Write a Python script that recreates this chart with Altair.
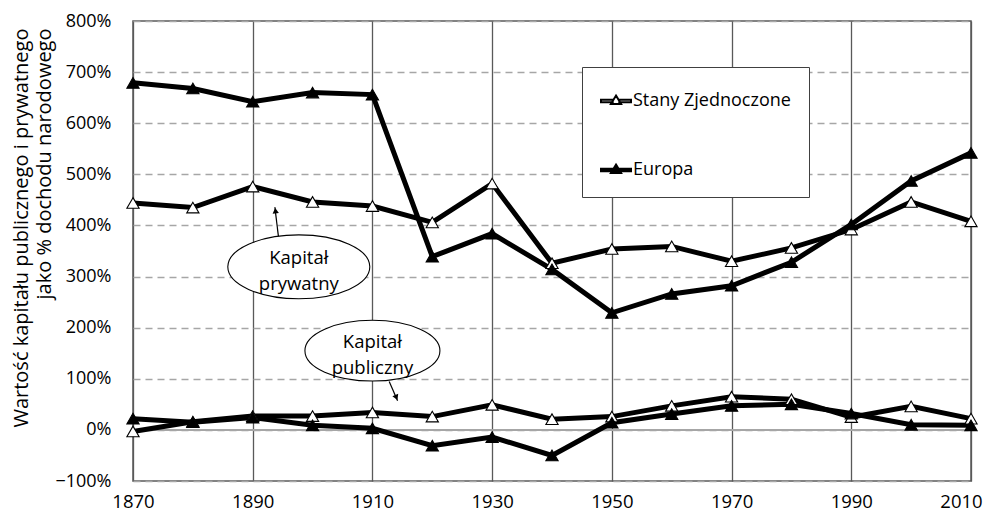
import altair as alt
import pandas as pd

# ---- data (percent of national income) ----
years = [1870, 1880, 1890, 1900, 1910, 1920, 1930, 1940, 1950, 1960, 1970, 1980, 1990, 2000, 2010]
series_names = ["Stany Zjednoczone", "Europa"]
usa_private = [444, 435, 476, 446, 438, 406, 482, 326, 354, 359, 330, 356, 392, 446, 408]
europe_private = [679, 668, 642, 660, 656, 339, 384, 314, 229, 266, 282, 328, 402, 487, 542]
usa_public = [-3, 16, 27, 27, 34, 26, 49, 21, 26, 47, 65, 60, 25, 46, 22]
europe_public = [22, 15, 24, 9, 3, -31, -14, -50, 14, 31, 47, 50, 32, 10, 9]

x_ticks = [1870, 1890, 1910, 1930, 1950, 1970, 1990, 2010]
y_ticks = [-100, 0, 100, 200, 300, 400, 500, 600, 700, 800]
y_title = ["Wartość kapitału publicznego i prywatnego", "jako % dochodu narodowego"]

# annotations
ann_text = ["Kapitał\nprywatny", "Kapitał\npubliczny"]
ann_year = [1897.7, 1910.0]
ann_pct = [319, 155]
ann_width = [142, 135]
arrow_year = [1894.3, 1912.8]
arrow_pct = [378, 94.5]
arrow_tip_year = [1893.7, 1914.2]
arrow_tip_pct = [435.8, 56.8]
head_year = [1893.8, 1914.0]
head_pct = [428.8, 63.2]
head_angle = [354, 157]

FONT = "Open Sans"

rows = []
for name, priv, pub in [(series_names[0], usa_private, usa_public),
                        (series_names[1], europe_private, europe_public)]:
    for kind, vals in [("prywatny", priv), ("publiczny", pub)]:
        for yr, v in zip(years, vals):
            rows.append({"year": yr, "frac": v / 100.0, "series": name,
                         "grp": name + "-" + kind})
df = pd.DataFrame(rows)

ann_df = pd.DataFrame({"year": ann_year, "frac": [p / 100 for p in ann_pct],
                       "label": ann_text, "sz": [w * w for w in ann_width]})
arrow_df = pd.DataFrame({"year": arrow_year, "frac": [p / 100 for p in arrow_pct],
                         "year2": arrow_tip_year, "frac2": [p / 100 for p in arrow_tip_pct]})
head_df = pd.DataFrame({"year": head_year, "frac": [p / 100 for p in head_pct],
                        "ang": head_angle})
zero_df = pd.DataFrame({"frac": [0.0]})

x_enc = alt.X("year:Q",
              scale=alt.Scale(domain=[1870, 2010], nice=False, zero=False),
              axis=alt.Axis(values=x_ticks, format="d", title=None, grid=True,
                            gridColor="#595959", gridWidth=1.3, domain=False,
                            ticks=False, labelFont=FONT, labelFontSize=18.5,
                            labelColor="black", labelPadding=11, labelFlush=False,
                            labelOffset={"condition": {"test": "datum.value == 2010",
                                                       "value": -10},
                                         "value": 0}))
y_enc = alt.Y("frac:Q",
              scale=alt.Scale(domain=[-1, 8], nice=False, zero=False),
              axis=alt.Axis(values=[v / 100 for v in y_ticks], format=".0%",
                            title=y_title, grid=True, gridColor="#A6A6A6",
                            gridDash=[7, 5], gridWidth=1.5, domain=False,
                            ticks=False, labelFont=FONT, labelFontSize=18,
                            labelColor="black", labelPadding=22,
                            titleFont=FONT, titleFontSize=20,
                            titleFontWeight="normal", titleColor="black",
                            titleLineHeight=23, titlePadding=0,
                            titleAlign="right", titleY=7))

zero = alt.Chart(zero_df).mark_rule(color="#A6A6A6", strokeWidth=2).encode(y=y_enc)

lines = alt.Chart(df).mark_line(color="black", strokeWidth=5).encode(
    x=x_enc, y=y_enc, detail="grp:N")

sym_path = ("M-1,-0.08H-0.22V0.08H-1Z M0.22,-0.08H1V0.08H0.22Z "
            "M0,-0.36L0.34,0.2L-0.34,0.2Z")

points = alt.Chart(df).mark_point(shape="triangle-up", filled=True, size=150,
                                  stroke="black", strokeWidth=1.1, opacity=1).encode(
    x=x_enc, y=y_enc, detail="grp:N",
    fill=alt.Fill("series:N",
                  scale=alt.Scale(domain=series_names, range=["white", "black"]),
                  legend=alt.Legend(orient="none", legendX=449, legendY=46,
                                    title=None, padding=18, fillColor="white",
                                    strokeColor="#404040", symbolType=sym_path,
                                    symbolSize=900, symbolStrokeColor="black",
                                    symbolStrokeWidth=2, labelFont=FONT,
                                    labelFontSize=18, labelColor="black",
                                    labelOffset=1, rowPadding=44, labelLimit=300)))

ellipse_path = "M-1,0A1,0.45,0,1,1,1,0A1,0.45,0,1,1,-1,0Z"
ellipses = alt.Chart(ann_df).mark_point(shape=ellipse_path, filled=True, fill="white",
                                        stroke="black", strokeWidth=1.1,
                                        opacity=1).encode(
    x=x_enc, y=y_enc, size=alt.Size("sz:Q", scale=None))
texts = alt.Chart(ann_df).mark_text(font=FONT, fontSize=18.5, lineBreak="\n",
                                    lineHeight=26, color="black",
                                    baseline="middle", dy=-9).encode(
    x=x_enc, y=y_enc, text="label:N")
arrows = alt.Chart(arrow_df).mark_rule(color="black", strokeWidth=1.2).encode(
    x=x_enc, y=y_enc, x2="year2:Q", y2="frac2:Q")
heads = alt.Chart(head_df).mark_point(shape="triangle-up", filled=True, size=40,
                                      color="black", opacity=1).encode(
    x=x_enc, y=y_enc, angle=alt.Angle("ang:Q", scale=None))

chart = alt.layer(zero, lines, points, arrows, heads, ellipses, texts).properties(
    width=838, height=460,
    autosize=alt.AutoSizeParams(type="none"),
    padding={"left": 125, "top": 13, "right": 12, "bottom": 31},
).configure_view(stroke="#595959", strokeWidth=1.5)

chart.save("out.html", embed_options={"renderer": "svg", "actions": False})
